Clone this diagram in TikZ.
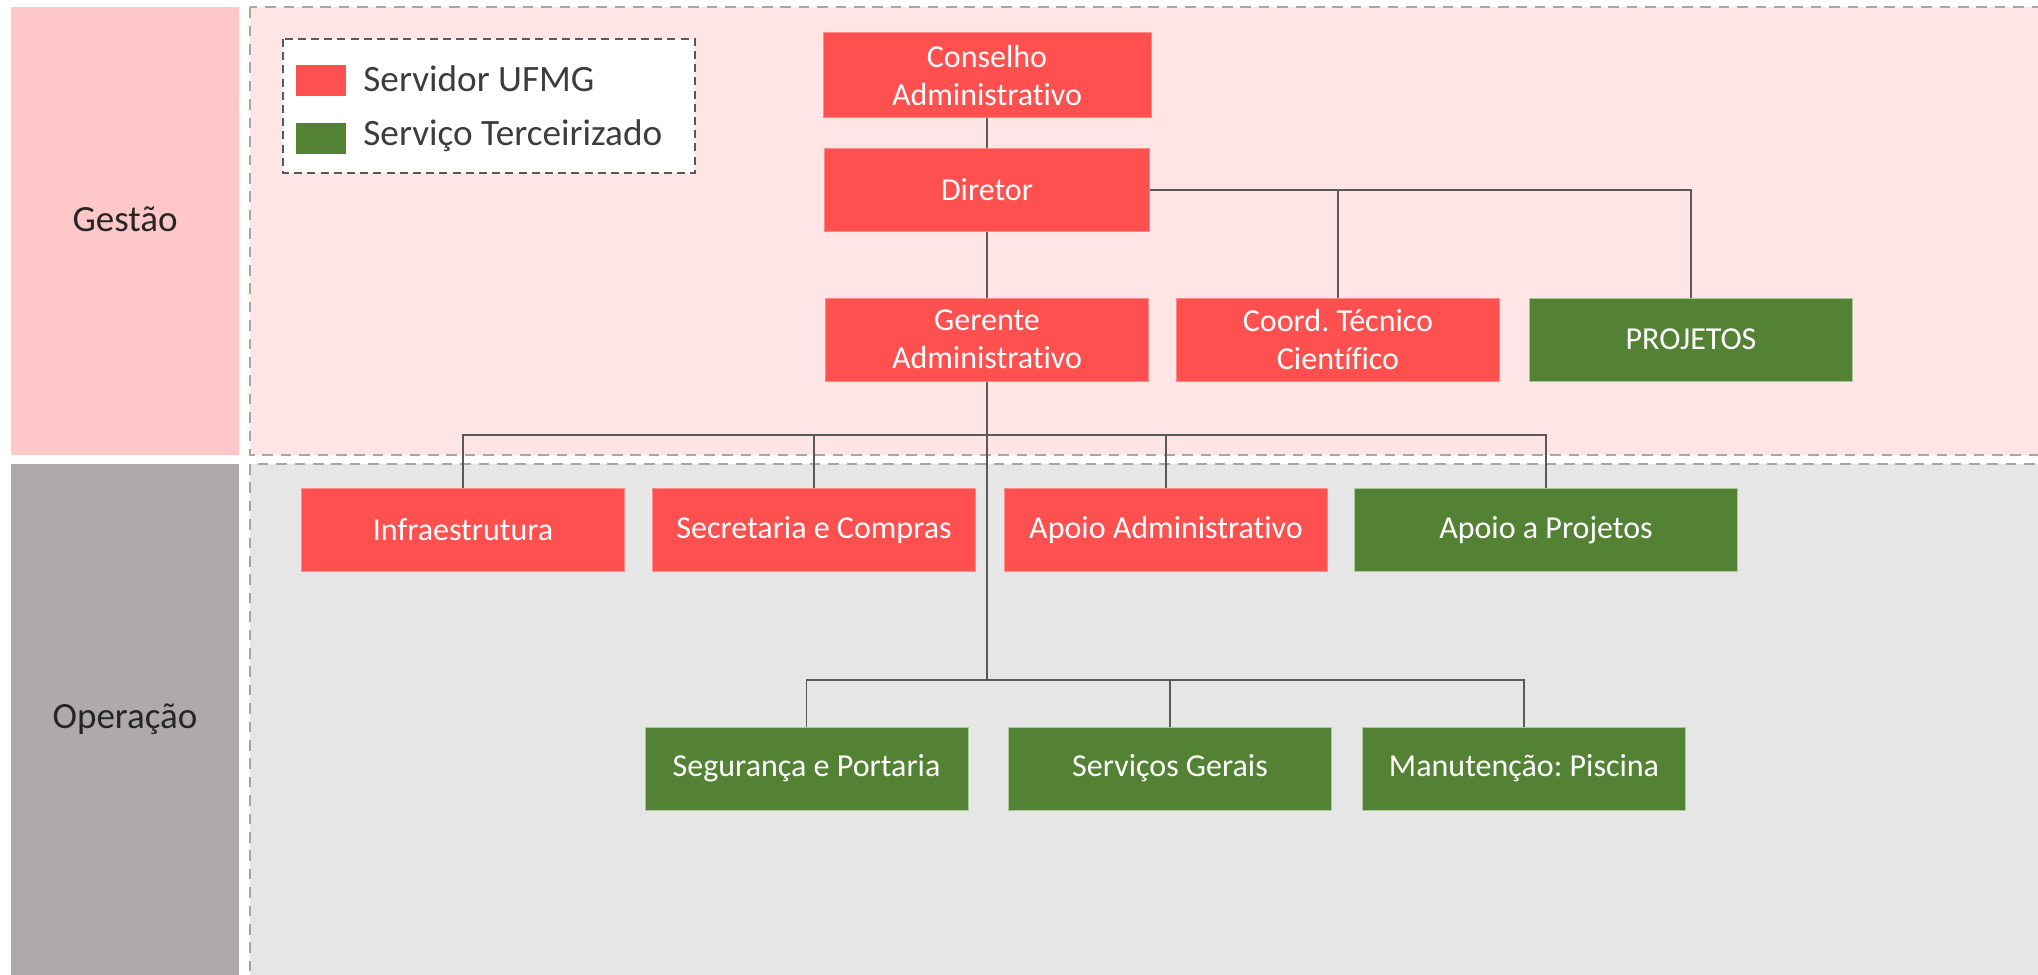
\documentclass[tikz,border=0pt]{standalone}
\usepackage{fontspec}
\setmainfont{Carlito}[Ligatures={NoCommon}]
\frenchspacing
\definecolor{bandG}{HTML}{FFC7C7}
\definecolor{regG}{HTML}{FFE5E5}
\definecolor{bandO}{HTML}{AEAAAA}
\definecolor{regO}{HTML}{E6E6E6}
\definecolor{dashc}{HTML}{A6A6A6}
\definecolor{redn}{HTML}{FF5050}
\definecolor{rednb}{HTML}{FF8A8A}
\definecolor{greenn}{HTML}{548235}
\definecolor{greennb}{HTML}{A9C99A}
\definecolor{connc}{HTML}{595959}
\definecolor{txtc}{HTML}{262626}
\tikzset{
  region/.style={draw=dashc, line width=1.2pt, dash pattern=on 5.3pt off 3.9pt},
  box/.style={rectangle, line width=0.5pt, text=white, align=center,
    font=\fontsize{16}{19}\selectfont\frenchspacing, minimum width=161.5pt, minimum height=41.5pt, inner sep=0pt},
  redbox/.style={box, fill=redn, draw=rednb},
  greenbox/.style={box, fill=greenn, draw=greennb},
  conn/.style={draw=connc, line width=0.6pt},
  bandlabel/.style={text=txtc, font=\fontsize{18.5}{21}\selectfont},
  legtext/.style={text=txtc!90, font=\fontsize{18.6}{21}\selectfont, anchor=west, inner sep=0pt},
}
\begin{document}
\begin{tikzpicture}[x=0.5pt, y=-0.5pt]
\useasboundingbox (0,0) rectangle (2038,974);
\clip (0,0) rectangle (2038,974);
% bands
\fill[bandG] (11,7) rectangle (239,455);
\fill[bandO] (11,464) rectangle (239,990);
\node[bandlabel] (lg) at (125,219) {Gestão};
\node[bandlabel] (lo) at (125,719) {Operação};
% regions
\filldraw[region, fill=regG] (250,7.3) rectangle (2060,455);
\filldraw[region, fill=regO] (250,464) rectangle (2060,1000);
% legend
\filldraw[fill=white, draw=connc, line width=1.1pt, dash pattern=on 4pt off 2.6pt] (283,39) rectangle (695,173);
\fill[redn] (296,65) rectangle (346,96);
\fill[greenn] (296,123) rectangle (346,154);
\node[legtext] (l1) at (363,79) {Servidor UFMG};
\node[legtext] (l2) at (363,136) {Serviço Terceirizado};
% nodes
\node[redbox, minimum width=164pt, minimum height=42.5pt] (cons) at (987,75.5) {Conselho\\Administrativo};
\node[redbox, minimum width=162.5pt] (dir) at (987,190) {Diretor};
\node[redbox] (ger) at (987,339.5) {Gerente\\Administrativo};
\node[redbox] (coord) at (1338,339.5) {Coord. Técnico\\Científico};
\node[greenbox] (proj) at (1691,339.5) {PROJETOS};
\node[redbox] (infra) at (463,530) {Infraestrutura};
\node[redbox] (sec) at (814,530) {Secretaria e Compras};
\node[redbox] (apadm) at (1166,530) {Apoio Administrativo};
\node[greenbox, minimum width=191.5pt] (approj) at (1546,530) {Apoio a Projetos};
\node[greenbox] (seg) at (806.5,768.5) {Segurança e Portaria};
\node[greenbox] (serv) at (1170,768.5) {Serviços Gerais};
\node[greenbox] (man) at (1524,768.5) {Manutenção: Piscina};
% connectors
\coordinate (b1) at (987,435);
\coordinate (b2) at (987,680);
\draw[conn] (cons.south) -- (dir.north);
\draw[conn] (dir.south) -- (ger.north);
\draw[conn] (dir.east) -| (coord.north);
\draw[conn] (dir.east) -| (proj.north);
\draw[conn] (ger.south) -- (b2);
\draw[conn] (b1) -| (infra.north);
\draw[conn] (b1) -| (sec.north);
\draw[conn] (b1) -| (apadm.north);
\draw[conn] (b1) -| (approj.north);
\draw[conn] (b2) -| (seg.north);
\draw[conn] (b2) -| (serv.north);
\draw[conn] (b2) -| (man.north);
\end{tikzpicture}
\end{document}
